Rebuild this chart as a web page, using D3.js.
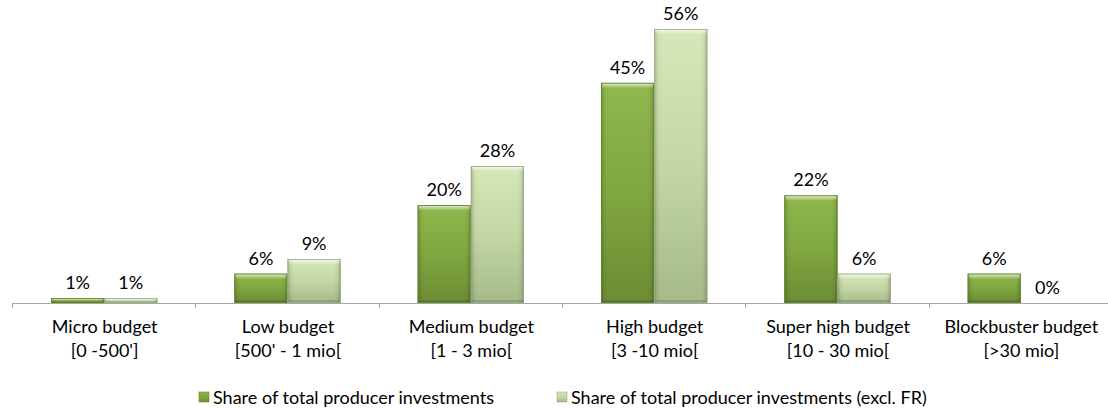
<!DOCTYPE html>
<html>
<head>
<meta charset="utf-8">
<script src="https://cdn.jsdelivr.net/npm/d3@7"></script>
<style>
  html, body { margin: 0; padding: 0; background: #fff; }
  svg { display: block; font-family: Lato, "Open Sans", sans-serif; }
</style>
</head>
<body>
<svg id="chart" width="1108" height="409"></svg>
<script>
// Budget categories (two-line labels)
const categories = [
  ["Micro budget", "[0 -500']"],
  ["Low budget", "[500' - 1 mio["],
  ["Medium budget", "[1 - 3 mio["],
  ["High budget", "[3 -10 mio["],
  ["Super high budget", "[10 - 30 mio["],
  ["Blockbuster budget", "[>30 mio]"]
];
const seriesNames = [
  "Share of total producer investments",
  "Share of total producer investments (excl. FR)"
];
const totalShare = [1, 6, 20, 45, 22, 6];
const exclFrShare = [1, 9, 28, 56, 6, 0];

(function () {
  const svg = d3.select("#chart");
  const W = 1108;
  const plotLeft = 13, plotRight = 1113, baseline = 303, plotTop = 29;
  const fontSize = 18;

  const x0 = d3.scaleBand().domain(d3.range(categories.length)).range([plotLeft, plotRight]).padding(0);
  const x1 = d3.scaleBand().domain([0, 1]).range([38, x0.bandwidth() - 39]).padding(0);
  const y = d3.scaleLinear().domain([0, 56]).range([baseline, plotTop]);

  const defs = svg.append("defs");
  function grad(id, vertical, stops) {
    const g = defs.append("linearGradient").attr("id", id)
      .attr("x1", 0).attr("y1", 0).attr("x2", vertical ? 0 : 1).attr("y2", vertical ? 1 : 0);
    stops.forEach(([o, c, a]) => g.append("stop").attr("offset", o).attr("stop-color", c)
      .attr("stop-opacity", a === undefined ? 1 : a));
  }
  // Base fills: lighter at the top, deeper toward the axis
  grad("gDark", true, [[0, "#8fb84d"], [0.5, "#80a740"], [1, "#6c8c34"]]);
  grad("gLight", true, [[0, "#d6e7b9"], [0.5, "#c3d6a4"], [1, "#a6b98a"]]);
  // Bevel shading on the sides
  grad("gSides", false, [[0, "#000", 0.22], [0.06, "#000", 0.05], [0.12, "#000", 0], [0.88, "#000", 0], [0.94, "#000", 0.05], [1, "#000", 0.25]]);
  // Bevel highlight at the top
  grad("gTop", true, [[0, "#fff", 0.7], [1, "#fff", 0]]);

  const series = [
    { values: totalShare, fill: "url(#gDark)", stroke: "#66862e" },
    { values: exclFrShare, fill: "url(#gLight)", stroke: "#9cae82" }
  ];

  // Axis line and category ticks
  const axis = svg.append("g");
  axis.append("line").attr("x1", plotLeft).attr("x2", W).attr("y1", baseline + 0.5).attr("y2", baseline + 0.5)
    .attr("stroke", "#a6a6a6").attr("stroke-width", 1);
  d3.range(categories.length + 1).forEach(i => {
    const tx = Math.round(plotLeft + i * x0.step()) - 0.5;
    axis.append("line").attr("x1", tx).attr("x2", tx).attr("y1", baseline).attr("y2", baseline + 5)
      .attr("stroke", "#a6a6a6");
  });

  // Bars with value labels
  series.forEach((s, si) => {
    const g = svg.append("g");
    s.values.forEach((v, i) => {
      const bx = x0(i) + x1(si);
      const bw = x1.bandwidth();
      const by = y(v);
      const bh = baseline - by;
      if (bh > 0) {
        g.append("rect").attr("x", bx).attr("y", by).attr("width", bw).attr("height", bh)
          .attr("fill", s.fill);
        g.append("rect").attr("x", bx).attr("y", by).attr("width", bw).attr("height", bh)
          .attr("fill", "url(#gSides)");
        const bev = Math.min(5, bh / 2);
        g.append("rect").attr("x", bx + 1).attr("y", by + 0.5).attr("width", bw - 2).attr("height", bev)
          .attr("fill", "url(#gTop)");
        g.append("rect").attr("x", bx + 1).attr("y", baseline - Math.min(3, bh / 3)).attr("width", bw - 2)
          .attr("height", Math.min(3, bh / 3)).attr("fill", "#000").attr("opacity", 0.12);
        g.append("rect").attr("x", bx + 0.4).attr("y", by + 0.4).attr("width", bw - 0.8).attr("height", bh - 0.8)
          .attr("fill", "none").attr("stroke", s.stroke).attr("stroke-width", 0.8);
      }
      svg.append("text").attr("x", bx + bw / 2).attr("y", by - 9)
        .attr("text-anchor", "middle").attr("font-size", fontSize).attr("fill", "#000")
        .text(v + "%");
    });
  });

  // Category labels
  categories.forEach((lines, i) => {
    const cx = x0(i) + x0.bandwidth() / 2;
    lines.forEach((t, li) => {
      svg.append("text").attr("x", cx).attr("y", 333 + li * 24)
        .attr("text-anchor", "middle").attr("font-size", fontSize).attr("fill", "#000").text(t);
    });
  });

  // Legend
  const legendX = [199, 557];
  seriesNames.forEach((name, i) => {
    const g = svg.append("g").attr("transform", `translate(${legendX[i]},392)`);
    g.append("rect").attr("x", 0).attr("y", 0).attr("width", 10).attr("height", 10)
      .attr("fill", series[i].fill).attr("stroke", series[i].stroke).attr("stroke-width", 0.6);
    g.append("text").attr("x", 14).attr("y", 12).attr("font-size", fontSize).attr("fill", "#000").text(name);
  });
})();
</script>
</body>
</html>
